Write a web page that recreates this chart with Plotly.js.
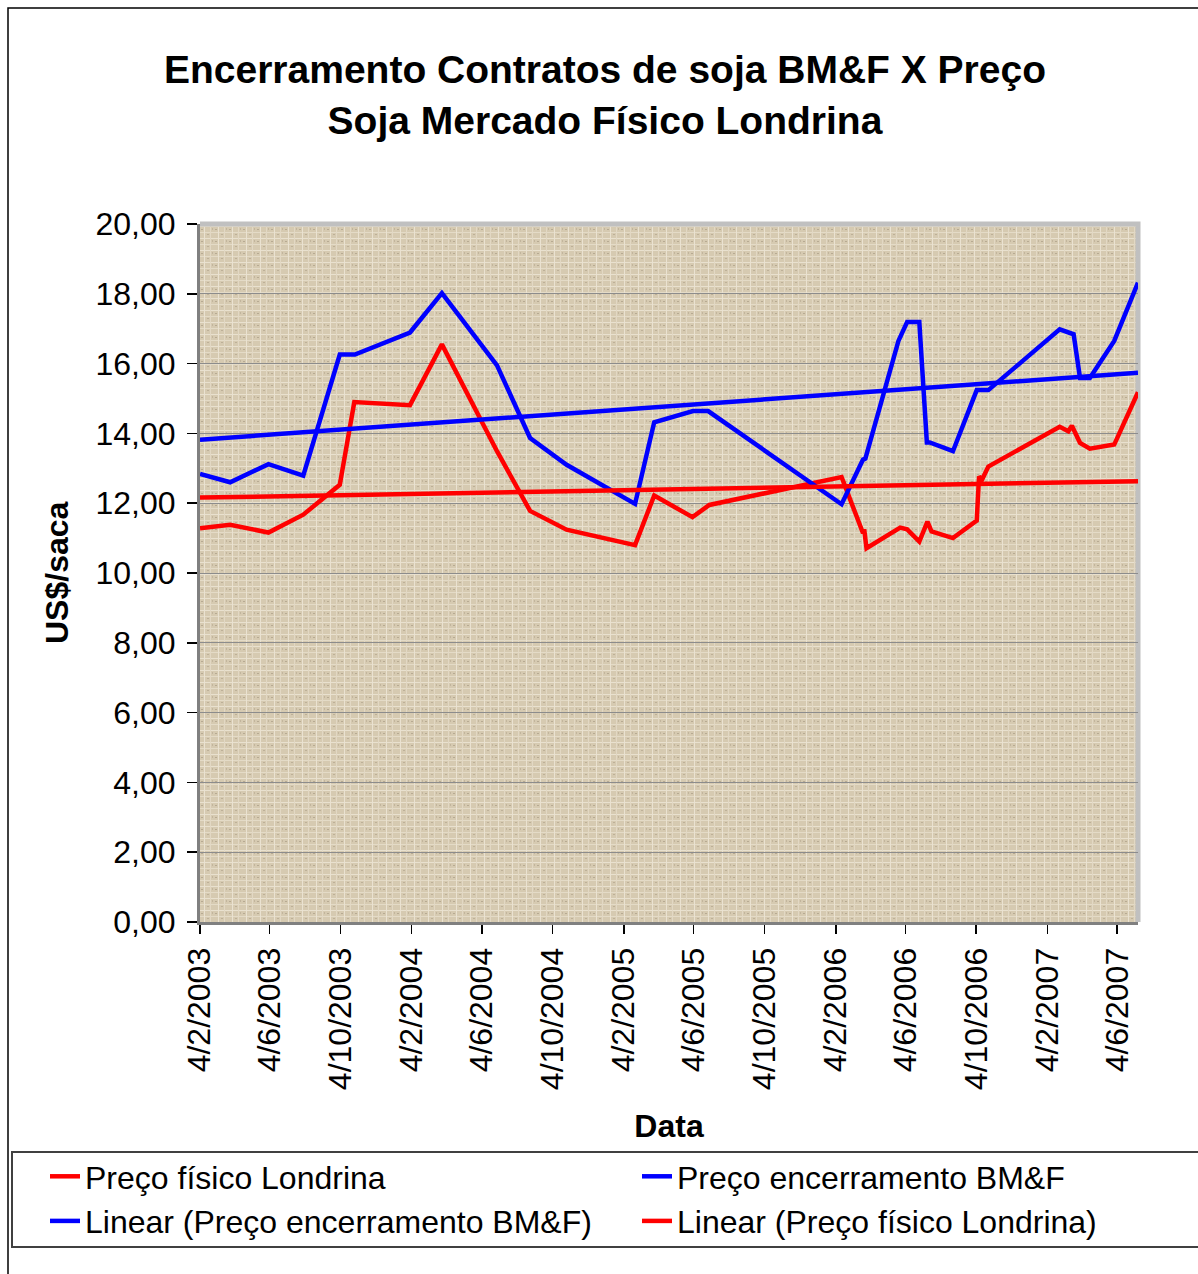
<!DOCTYPE html>
<html>
<head>
<meta charset="utf-8">
<script src="https://cdn.plot.ly/plotly-3.0.1.min.js"></script>
<style>html,body{margin:0;padding:0;background:#fff;}</style>
</head>
<body>
<div id="chart" style="width:1198px;height:1274px;"></div>
<script>
// ---- data ----
const bmfDates = ['2003-02-04','2003-03-28','2003-06-02','2003-08-01','2003-10-03','2003-10-29','2004-02-01','2004-03-27','2004-06-30','2004-08-26','2004-10-28','2005-02-23','2005-03-28','2005-06-03','2005-06-29','2006-02-14','2006-03-23','2006-03-27','2006-05-23','2006-06-07','2006-06-28','2006-07-11','2006-07-16','2006-08-25','2006-10-05','2006-10-25','2007-02-25','2007-03-21','2007-04-01','2007-04-18','2007-05-30','2007-07-10'];
const bmfValues = [12.84,12.60,13.12,12.79,16.26,16.26,16.89,18.02,15.95,13.87,13.10,11.98,14.32,14.64,14.64,11.97,13.25,13.28,16.65,17.19,17.19,13.74,13.74,13.49,15.24,15.24,16.98,16.84,15.59,15.59,16.65,18.32];

const londrinaDates = ['2003-02-04','2003-03-28','2003-06-02','2003-08-01','2003-10-03','2003-10-28','2004-02-01','2004-03-27','2004-06-30','2004-08-26','2004-10-28','2005-02-23','2005-03-28','2005-06-02','2005-07-01','2006-02-14','2006-03-23','2006-03-25','2006-03-29','2006-05-26','2006-06-07','2006-06-28','2006-07-12','2006-07-19','2006-08-25','2006-10-05','2006-10-09','2006-10-14','2006-10-25','2007-02-25','2007-03-12','2007-03-18','2007-04-01','2007-04-18','2007-05-30','2007-07-10'];
const londrinaValues = [11.28,11.38,11.16,11.67,12.53,14.90,14.81,16.55,13.49,11.78,11.24,10.80,12.22,11.60,11.95,12.75,11.14,11.25,10.71,11.30,11.25,10.90,11.47,11.19,11.00,11.50,12.77,12.67,13.05,14.19,14.06,14.22,13.73,13.56,13.68,15.18];

const trendDates = ['2003-02-04','2007-07-10'];
const bmfTrend = [13.82, 15.74];
const londrinaTrend = [12.16, 12.63];

const tickDates = ['2003-02-04','2003-06-04','2003-10-04','2004-02-04','2004-06-04','2004-10-04','2005-02-04','2005-06-04','2005-10-04','2006-02-04','2006-06-04','2006-10-04','2007-02-04','2007-06-04'];
const tickLabels = ['4/2/2003','4/6/2003','4/10/2003','4/2/2004','4/6/2004','4/10/2004','4/2/2005','4/6/2005','4/10/2005','4/2/2006','4/6/2006','4/10/2006','4/2/2007','4/6/2007'];

const seriesNames = ['Preço físico Londrina','Preço encerramento BM&F','Linear (Preço encerramento BM&F)','Linear (Preço físico Londrina)'];

// ---- layout constants ----
const W = 1198, H = 1274;
const L = 200, R = 1138, T = 224, B = 922;
const px = x => (x - L) / (R - L);
const py = y => (B - y) / (B - T);
const FONT = 'Arial, "Liberation Sans", sans-serif';
const RED = '#ff0000', BLUE = '#0000ff';

// burlap-like background texture for the plot area
const textureSvg =
  "<svg xmlns='http://www.w3.org/2000/svg' width='938' height='698'>" +
  "<defs><pattern id='p' width='14' height='12' patternUnits='userSpaceOnUse'>" +
  "<rect width='14' height='12' fill='#d6cab1'/>" +
  "<rect x='0' y='2' width='14' height='1' fill='#e9e1cf'/>" +
  "<rect x='0' y='8' width='14' height='1' fill='#e4dbc7'/>" +
  "<rect x='4' y='0' width='1' height='12' fill='#eae2d1'/>" +
  "<rect x='10' y='0' width='1' height='12' fill='#e2d8c4'/>" +
  "<rect x='1' y='5' width='2' height='1' fill='#b7aa92'/>" +
  "<rect x='7' y='10' width='2' height='1' fill='#bdb098'/>" +
  "<rect x='12' y='4' width='1' height='2' fill='#c2b59d'/>" +
  "</pattern></defs><rect width='938' height='698' fill='url(#p)'/></svg>";
const textureUri = 'data:image/svg+xml;charset=utf-8,' + encodeURIComponent(textureSvg);

const traces = [
  {x: londrinaDates, y: londrinaValues, name: seriesNames[0], type: 'scatter', mode: 'lines',
   line: {color: RED, width: 4.5}, legend: 'legend'},
  {x: bmfDates, y: bmfValues, name: seriesNames[1], type: 'scatter', mode: 'lines',
   line: {color: BLUE, width: 4.5}, legend: 'legend2'},
  {x: trendDates, y: bmfTrend, name: seriesNames[2], type: 'scatter', mode: 'lines',
   line: {color: BLUE, width: 4.5}, legend: 'legend'},
  {x: trendDates, y: londrinaTrend, name: seriesNames[3], type: 'scatter', mode: 'lines',
   line: {color: RED, width: 4.5}, legend: 'legend2'}
];

const legendCommon = {
  orientation: 'v', xref: 'container', yref: 'container', xanchor: 'left', yanchor: 'top',
  font: {family: FONT, size: 32, color: '#000'}, bgcolor: 'rgba(0,0,0,0)', borderwidth: 0,
  traceorder: 'normal', tracegroupgap: 0
};

const layout = {
  width: W, height: H,
  margin: {l: L, r: W - R, t: T, b: H - B, pad: 0, autoexpand: false},
  paper_bgcolor: '#ffffff',
  plot_bgcolor: '#d8ccb4',
  separators: ',.',
  showlegend: true,
  title: {
    text: '<b>Encerramento Contratos de soja BM&F X Preço<br>Soja Mercado Físico Londrina</b>',
    font: {family: FONT, size: 39, color: '#000'},
    xref: 'container', x: 0.505, xanchor: 'center',
    yref: 'container', y: 1 - 83 / H, yanchor: 'top'
  },
  xaxis: {
    type: 'date', range: [trendDates[0], trendDates[1]],
    tickmode: 'array', tickvals: tickDates, ticktext: tickLabels, tickangle: -90,
    ticks: 'outside', ticklen: 9, tickwidth: 1.5, tickcolor: '#000',
    tickfont: {family: FONT, size: 32, color: '#000'},
    ticklabelstandoff: 1,
    showgrid: false, zeroline: false, showline: true, linecolor: '#808080', linewidth: 3,
    automargin: false, fixedrange: true,
    title: {text: '<b>Data</b>', font: {family: FONT, size: 32, color: '#000'}, standoff: 26}
  },
  yaxis: {
    range: [0, 20], tick0: 0, dtick: 2, tickformat: '.2f',
    ticks: 'outside', ticklen: 10, tickwidth: 1.5, tickcolor: '#000',
    tickfont: {family: FONT, size: 32, color: '#000'},
    ticklabelstandoff: 5,
    showgrid: true, gridcolor: '#8c8c8c', gridwidth: 1,
    zeroline: false, showline: true, linecolor: '#808080', linewidth: 3,
    automargin: false, fixedrange: true
  },
  annotations: [
    {text: '<b>US$/saca</b>', xref: 'paper', yref: 'paper', x: px(57), y: 0.5,
     xanchor: 'center', yanchor: 'middle', textangle: -90, showarrow: false,
     font: {family: FONT, size: 32, color: '#000'}}
  ],
  legend: Object.assign({}, legendCommon, {x: 45 / W, y: 1 - 1149 / H}),
  legend2: Object.assign({}, legendCommon, {x: 637 / W, y: 1 - 1149 / H}),
  images: [
    {source: textureUri, xref: 'paper', yref: 'paper', x: 0, y: 1, sizex: 1, sizey: 1,
     xanchor: 'left', yanchor: 'top', sizing: 'stretch', layer: 'below', opacity: 1}
  ],
  shapes: [
    {type: 'path', xref: 'paper', yref: 'paper', layer: 'above',
     path: `M ${px(8)} ${py(1290)} L ${px(8)} ${py(8)} L ${px(1210)} ${py(8)}`,
     line: {color: '#000', width: 1.5}},
    {type: 'path', xref: 'paper', yref: 'paper', layer: 'below',
     path: `M 0 1 L 1 1 L 1 0`, line: {color: '#c0c0c0', width: 5}},
    {type: 'rect', xref: 'paper', yref: 'paper', layer: 'above',
     x0: px(12), x1: px(1210), y0: py(1152), y1: py(1247),
     line: {color: '#404040', width: 2}, fillcolor: 'rgba(0,0,0,0)'}
  ]
};

Plotly.newPlot('chart', traces, layout, {displayModeBar: false, staticPlot: true});
</script>
</body>
</html>
